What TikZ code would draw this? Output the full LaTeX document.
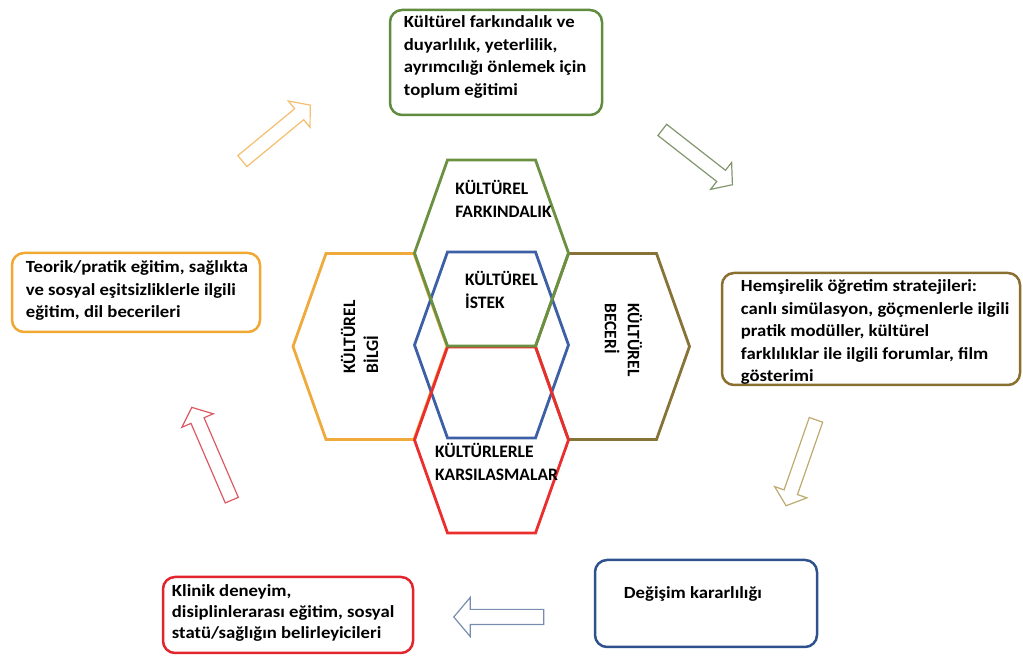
\documentclass[tikz,border=0pt]{standalone}
\usepackage{fontspec}
\setmainfont{Carlito}
\newfontfamily\widefont[FakeStretch=1.1]{Carlito}
\usepackage{tikz}
\usetikzlibrary{positioning,shapes.arrows}

\definecolor{boxgreen}{RGB}{96,140,62}
\definecolor{boxorange}{RGB}{240,168,50}
\definecolor{boxbrown}{RGB}{138,112,48}
\definecolor{boxred}{RGB}{226,36,44}
\definecolor{boxblue}{RGB}{47,82,143}
\definecolor{hexgreen}{RGB}{105,145,65}
\definecolor{hexorange}{RGB}{240,170,60}
\definecolor{hexbrown}{RGB}{135,115,55}
\definecolor{hexred}{RGB}{235,45,45}
\definecolor{hexblue}{RGB}{60,95,165}
\definecolor{arrorange}{RGB}{244,190,110}
\definecolor{arrgreen}{RGB}{130,150,110}
\definecolor{arrbrown}{RGB}{190,170,110}
\definecolor{arrblue}{RGB}{120,140,175}
\definecolor{arrred}{RGB}{220,90,100}

\begin{document}
\begin{tikzpicture}[
            x = 1pt, y = 1pt,
            box/.style = {draw, rounded corners=12pt, line width=2.5pt, inner sep=0pt}, % outer boxes
            boxtext/.style = {align=left, inner sep=0pt, font=\widefont\bfseries\fontsize{17}{22.5}\selectfont},
            hexline/.style = {line width=2.8pt, line join=miter},
            hextext/.style = {align=left, inner sep=0pt, font=\bfseries\fontsize{17.5}{23}\selectfont},
            blockarrow/.style = {single arrow, draw, line width=1.2pt, inner xsep=0pt, inner ysep=6.5pt,
                                 single arrow head extend=10pt, single arrow tip angle=100}
        ]
\useasboundingbox (0,0) rectangle (1023,658);

% honeycomb
\foreach \cx/\cy/\col in {370/311.5/hexorange, 612.5/311.5/hexbrown, 491.5/313/hexblue, 491.5/218/hexred, 491.5/405/hexgreen}
    \draw[hexline, draw=\col] (\cx,\cy) ++(-44,93) -- ++(88,0) -- ++(33,-93) -- ++(-33,-93) -- ++(-88,0) -- ++(-33,93) -- cycle;

\node[hextext] (awarenesshex) at (503.5,459) {KÜLTÜREL\\FARKINDALIK};
\node[hextext] (desirehex) at (501.5,368) {KÜLTÜREL\\İSTEK};
\node[hextext] (encounterhex) at (496.5,196.5) {KÜLTÜRLERLE\\KARSILASMALAR};
\node[hextext, rotate=90] (knowledgehex) at (359.5,321) {KÜLTÜREL\\BİLGİ};
\node[hextext, rotate=-90] (skillhex) at (623.5,318) {KÜLTÜREL\\BECERİ};

% outer boxes
\node[box, draw=boxgreen, minimum width=212pt, minimum height=105pt] (awareness) at (496,595.5) {};
\node[box, draw=boxorange, minimum width=248pt, minimum height=79pt] (theory) at (136,365.5) {};
\node[box, draw=boxbrown, minimum width=298pt, minimum height=112pt] (teaching) at (871,329) {};
\node[box, draw=boxred, minimum width=250pt, minimum height=76pt] (clinic) at (288,43) {};
\node[box, draw=boxblue, minimum width=222pt, minimum height=87pt] (change) at (706,54.5) {};

\node[boxtext, below right=7pt and 15pt of awareness.north west] (awarenesstext)
    {Kültürel farkındalık ve\\duyarlılık, yeterlilik,\\ayrımcılığı önlemek için\\toplum eğitimi};
\node[boxtext, below right=9pt and 15pt of theory.north west] (theorytext)
    {Teorik/pratik eğitim, sağlıkta\\ve sosyal eşitsizliklerle ilgili\\eğitim, dil becerileri};
\node[boxtext, below right=8pt and 20pt of teaching.north west] (teachingtext)
    {Hemşirelik öğretim stratejileri:\\canlı simülasyon, göçmenlerle ilgili\\pratik modüller, kültürel\\farklılıklar ile ilgili forumlar, film\\gösterimi};
\node[boxtext, below right=9pt and 10pt of clinic.north west, font=\widefont\bfseries\fontsize{17}{21}\selectfont] (clinictext)
    {Klinik deneyim,\\disiplinlerarası eğitim, sosyal\\statü/sağlığın belirleyicileri};
\node[boxtext, below right=28pt and 30pt of change.north west] (changetext)
    {Değişim kararlılığı};

% block arrows round the cycle
\node[blockarrow, draw=arrorange, minimum height=88pt, rotate=39.5] (toawareness) at (274,523) {};
\node[blockarrow, draw=arrgreen, minimum height=89pt, rotate=-38] (toteaching) at (695,502.5) {};
\node[blockarrow, draw=arrbrown, minimum height=91pt, rotate=-109.2] (tochange) at (802,198) {};
\node[blockarrow, draw=arrblue, minimum height=90pt, rotate=180, inner ysep=7pt, single arrow head extend=12pt] (toclinic) at (502,41) {};
\node[blockarrow, draw=arrred, minimum height=101pt, rotate=113.3] (totheory) at (213,201.5) {};

\end{tikzpicture}
\end{document}
